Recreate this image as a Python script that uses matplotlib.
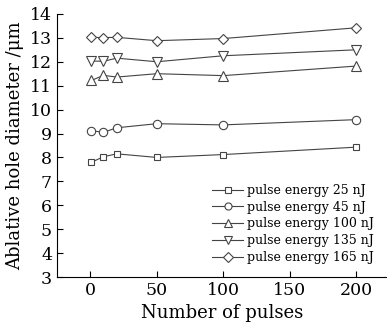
import matplotlib
matplotlib.use("Agg")
import matplotlib.pyplot as plt

pulses = [1, 10, 20, 50, 100, 200]
labels = ["pulse energy 25 nJ", "pulse energy 45 nJ", "pulse energy 100 nJ",
          "pulse energy 135 nJ", "pulse energy 165 nJ"]
d25 = [7.8, 8.03, 8.15, 8.0, 8.12, 8.43]
d45 = [9.12, 9.05, 9.24, 9.41, 9.36, 9.58]
d100 = [11.22, 11.43, 11.36, 11.5, 11.42, 11.82]
d135 = [12.03, 12.02, 12.15, 12.0, 12.25, 12.5]
d165 = [13.02, 13.01, 13.02, 12.88, 12.97, 13.42]
series = [d25, d45, d100, d135, d165]
markers = ["s", "o", "^", "v", "D"]
msizes = [5, 6, 6.5, 6.5, 5.5]

plt.rcParams['font.family'] = ['DejaVu Serif']
fig = plt.figure(figsize=(3.87, 3.31), dpi=100)
ax = fig.add_axes([0.147, 0.163, 0.853, 0.795])
for s, m, ms, lab in zip(series, markers, msizes, labels):
    ax.plot(pulses, s, color="#444444", lw=0.8, marker=m, ms=ms,
            mfc="white", mec="#444444", mew=0.8, label=lab)
ax.set_xlim(-25, 223)
ax.set_ylim(3, 14)
ax.set_xticks([0, 50, 100, 150, 200])
ax.set_yticks(range(3, 15))
ax.spines['top'].set_visible(False)
ax.spines['right'].set_visible(False)
ax.tick_params(direction='in', length=4, labelsize=12.5, width=0.8)
ax.set_xlabel("Number of pulses", fontsize=13)
ax.set_ylabel("Ablative hole diameter /μm", fontsize=13)
ax.legend(loc="lower right", frameon=False, fontsize=9, handlelength=2.5,
          handletextpad=0.3, labelspacing=0.3, borderaxespad=0, borderpad=0,
          markerscale=0.85, bbox_to_anchor=(0.96, 0.05))
fig.savefig("out.png", dpi=100)
